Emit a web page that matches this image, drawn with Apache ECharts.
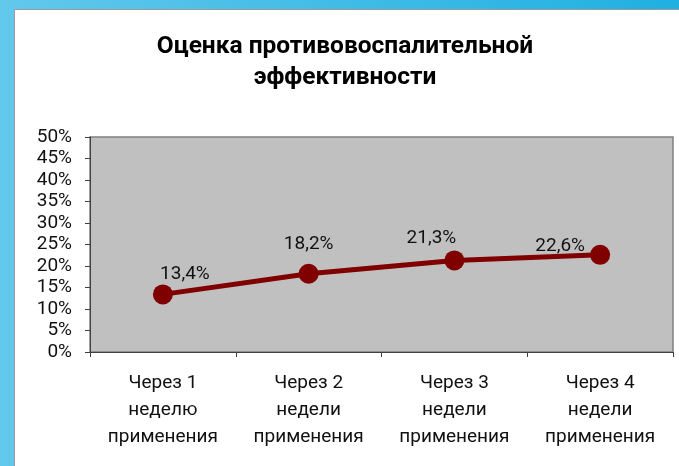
<!DOCTYPE html>
<html>
<head>
<meta charset="utf-8">
<script src="https://cdn.jsdelivr.net/npm/echarts@6/dist/echarts.min.js"></script>
<style>
  html, body { margin: 0; padding: 0; }
  #chart { width: 679px; height: 466px; }
</style>
</head>
<body>
<div id="chart"></div>
<script>
// Anti-inflammatory efficiency over weeks of use
const titleText = 'Оценка противовоспалительной\nэффективности';
const categories = [
  'Через 1\nнеделю\nприменения',
  'Через 2\nнедели\nприменения',
  'Через 3\nнедели\nприменения',
  'Через 4\nнедели\nприменения'
];
const efficiency = [13.4, 18.2, 21.3, 22.6];
const yTicks = { min: 0, max: 50, step: 5 };

// per-point label nudges (dx, dy) from each marker's centre
const labelOffsets = [[22, -20], [0, -29], [-23, -22], [-40, -9]];

const chart = echarts.init(document.getElementById('chart'), null, { renderer: 'canvas' });

const seriesData = efficiency.map((v, i) => ({
  value: v,
  label: { offset: labelOffsets[i] }
}));

chart.setOption({
  animation: false,
  backgroundColor: {
    type: 'linear', x: 0, y: 0, x2: 1, y2: 0,
    colorStops: [
      { offset: 0, color: '#62c8ec' },
      { offset: 1, color: '#20b0e2' }
    ]
  },
  graphic: [{
    type: 'rect',
    z: -10,
    shape: { x: 14.5, y: 9.5, width: 700, height: 500 },
    style: { fill: '#ffffff', stroke: '#9a9a9a', lineWidth: 1 }
  }],
  title: {
    text: titleText,
    left: 340,
    textAlign: 'center',
    top: 26,
    textStyle: {
      fontFamily: 'Roboto',
      fontWeight: 'bold',
      fontSize: 24.5,
      lineHeight: 31,
      color: '#000'
    }
  },
  grid: {
    left: 90, top: 137, right: 6, bottom: 114,
    show: true,
    backgroundColor: '#c0c0c0',
    borderColor: '#808080',
    borderWidth: 1.5
  },
  xAxis: {
    type: 'category',
    data: categories,
    boundaryGap: true,
    axisLine: { lineStyle: { color: '#404040', width: 1 } },
    axisTick: { show: true, interval: 0, length: 5, lineStyle: { color: '#404040' } },
    axisLabel: {
      interval: 0,
      margin: 18,
      fontFamily: 'Roboto',
      fontSize: 19,
      lineHeight: 27,
      color: '#111'
    }
  },
  yAxis: {
    type: 'value',
    min: yTicks.min,
    max: yTicks.max,
    interval: yTicks.step,
    axisLine: { show: true, lineStyle: { color: '#404040', width: 1 } },
    axisTick: { show: true, length: 5, lineStyle: { color: '#404040' } },
    splitLine: { show: false },
    axisLabel: {
      margin: 18,
      fontFamily: 'Roboto',
      fontSize: 19,
      color: '#111',
      formatter: v => v + '%'
    }
  },
  series: [{
    type: 'line',
    data: seriesData,
    symbol: 'circle',
    symbolSize: 20,
    lineStyle: { color: '#800000', width: 5 },
    itemStyle: { color: '#800000' },
    label: {
      show: true,
      position: 'inside',
      fontFamily: 'Roboto',
      fontSize: 19,
      color: '#111',
      formatter: p => String(p.value).replace('.', ',') + '%'
    }
  }]
});
</script>
</body>
</html>
